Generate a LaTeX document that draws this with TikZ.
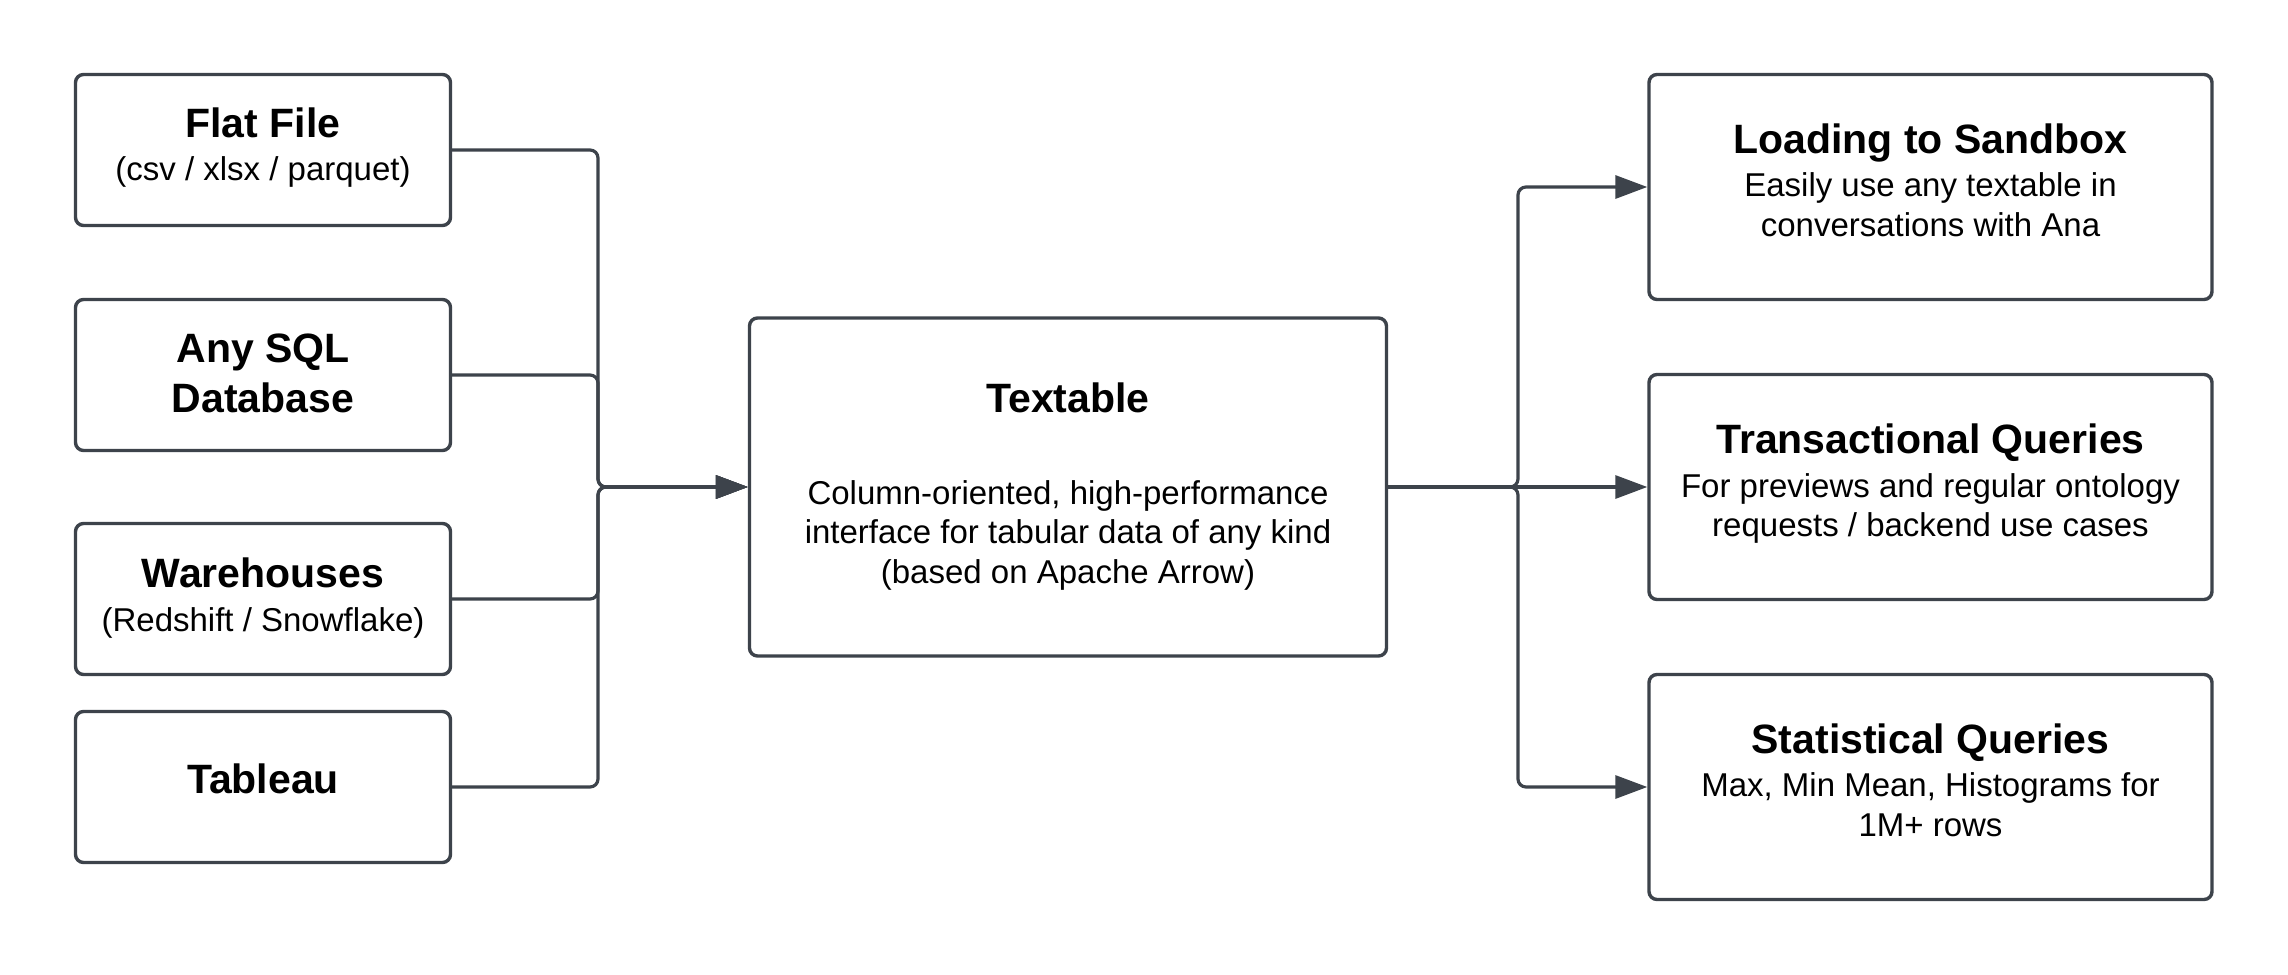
\documentclass[tikz,border=0pt]{standalone}
\usepackage{fontspec}
\setmainfont{Liberation Sans}
\usetikzlibrary{arrows.meta}
\definecolor{stroke}{HTML}{3D434B}
\begin{document}
\begin{tikzpicture}[x=0.5pt,y=-0.5pt,
  box/.style={draw=stroke, line width=1.7pt, rounded corners=4pt, fill=white, inner sep=0pt},
  lbox/.style={box, minimum width=187.5pt, minimum height=75.5pt},
  rbox/.style={box, minimum width=281.5pt, minimum height=112.5pt},
  conn/.style={draw=stroke, line width=1.6pt, rounded corners=4pt},
  tip/.style={-{Triangle[length=16pt,width=11.5pt]}},
  ttl/.style={anchor=base, inner sep=0pt, font=\fontsize{20.5}{24}\selectfont\bfseries},
  bdy/.style={anchor=base, inner sep=0pt, font=\fontsize{16.5}{19.5}\selectfont}]
\useasboundingbox (0,0) rectangle (2288,975);
\fill[white] (0,0) rectangle (2288,975);
% left boxes
\node[lbox] (flat) at (263,150) {};
\node[lbox] (sql) at (263,375) {};
\node[lbox] (wh) at (263,599) {};
\node[lbox] (tab) at (263,787) {};
% centre
\node[box, minimum width=318.5pt, minimum height=169pt] (tex) at (1068,487) {};
% right boxes
\node[rbox] (load) at (1930.5,187) {};
\node[rbox] (trans) at (1930.5,487) {};
\node[rbox] (stat) at (1930.5,787) {};
% bus coordinates
\coordinate (busL) at (598,487);
\coordinate (busR) at (1518,487);
% connectors left
\draw[conn,tip] (flat.east) -| (busL) -- (tex.west);
\draw[conn,tip] (sql.east) -| (busL) -- (tex.west);
\draw[conn,tip] (wh.east) -| (busL) -- (tex.west);
\draw[conn,tip] (tab.east) -| (busL) -- (tex.west);
% connectors right
\draw[conn,tip] (tex.east) -- (trans.west);
\draw[conn,tip] (tex.east) -- (busR) |- (load.west);
\draw[conn,tip] (tex.east) -- (busR) |- (stat.west);
% texts left
\node[ttl] (flatT) at (263,137) {Flat File};
\node[bdy] (flatS) at (263,180) {(csv / xlsx / parquet)};
\node[ttl] (sqlT1) at (263,362) {Any SQL};
\node[ttl] (sqlT2) at (263,412) {Database};
\node[ttl] (whT) at (263,587) {Warehouses};
\node[bdy] (whS) at (263,631) {(Redshift / Snowflake)};
\node[ttl] (tabT) at (263,793) {Tableau};
% texts centre
\node[ttl] (texT) at (1068,412) {Textable};
\node[bdy] (texB1) at (1068,504) {Column-oriented, high-performance};
\node[bdy] (texB2) at (1068,543) {interface for tabular data of any kind};
\node[bdy] (texB3) at (1068,583) {(based on Apache Arrow)};
% texts right
\node[ttl] (loadT) at (1930.5,153) {Loading to Sandbox};
\node[bdy] (loadB1) at (1930.5,196) {Easily use any textable in};
\node[bdy] (loadB2) at (1930.5,236) {conversations with Ana};
\node[ttl] (transT) at (1930.5,453) {Transactional Queries};
\node[bdy] (transB1) at (1930.5,497) {For previews and regular ontology};
\node[bdy] (transB2) at (1930.5,536) {requests / backend use cases};
\node[ttl] (statT) at (1930.5,753) {Statistical Queries};
\node[bdy] (statB1) at (1930.5,796) {Max, Min Mean, Histograms for};
\node[bdy] (statB2) at (1930.5,836) {1M+ rows};
\end{tikzpicture}
\end{document}
